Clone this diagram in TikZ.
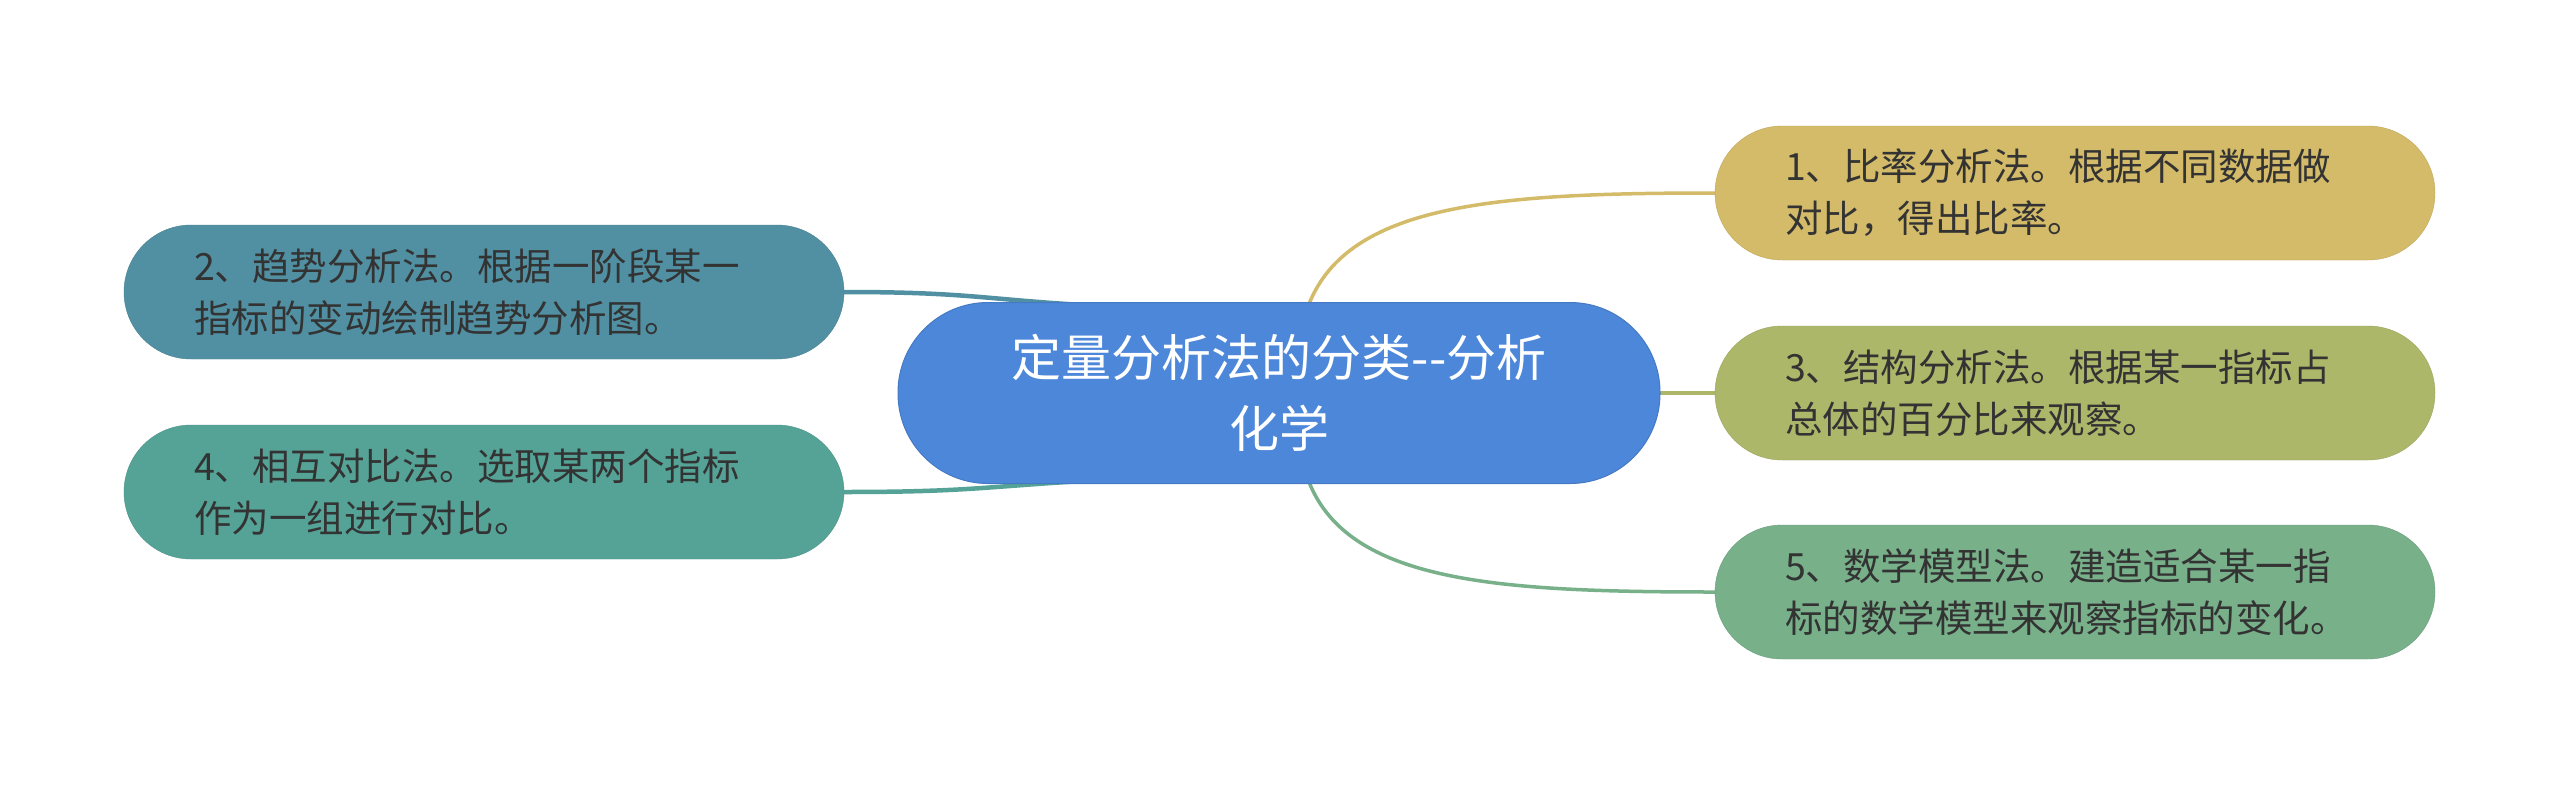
\documentclass[tikz,border=0pt]{standalone}
\usepackage{fontspec}
\newfontfamily\cjk{Noto Sans CJK SC}
\usetikzlibrary{calc}
\pgfdeclarelayer{bg}
\pgfsetlayers{bg,main}
\definecolor{cmain}{HTML}{4D87DA}
\definecolor{cone}{HTML}{D4BB69}
\definecolor{cthree}{HTML}{ADB76A}
\definecolor{cfive}{HTML}{78B08A}
\definecolor{ctwo}{HTML}{5190A2}
\definecolor{cfour}{HTML}{55A397}
\definecolor{tdark}{HTML}{333333}
\begin{document}
\begin{tikzpicture}[x=1pt,y=-1pt,
  leaf/.style={rectangle, rounded corners=67pt, minimum width=720pt, minimum height=134pt,
    text width=580pt, align=left, inner sep=0pt, text=tdark,
    font=\cjk\fontsize{37.5}{52}\selectfont},
  hub/.style={rectangle, rounded corners=90pt, minimum width=762pt, minimum height=181pt,
    align=center, inner sep=0pt, text=white, fill=cmain, draw=cmain!90!black, line width=1pt,
    font=\cjk\fontsize{50}{71}\selectfont},
  conn/.style={line width=3.5pt, line cap=round}]
\useasboundingbox (0,0) rectangle (2560,785);

\node[hub] (c) at (1279,393) {定量分析法的分类--分析\\化学};

\node[leaf, fill=cone, draw=cone!90!black] (n1) at (2075,193) {1、比率分析法。根据不同数据做\\对比，得出比率。};
\node[leaf, fill=cthree, draw=cthree!90!black] (n3) at (2075,393) {3、结构分析法。根据某一指标占\\总体的百分比来观察。};
\node[leaf, fill=cfive, draw=cfive!90!black] (n5) at (2075,592) {5、数学模型法。建造适合某一指\\标的数学模型来观察指标的变化。};
\node[leaf, fill=ctwo, draw=ctwo!90!black] (n2) at (484,292) {2、趋势分析法。根据一阶段某一\\指标的变动绘制趋势分析图。};
\node[leaf, fill=cfour, draw=cfour!90!black] (n4) at (484,492) {4、相互对比法。选取某两个指标\\作为一组进行对比。};

\coordinate (a1) at ($(c.north)+(30,2)$);
\coordinate (a5) at ($(c.south)+(30,-2)$);
\coordinate (a2) at ($(c.north west)+(185,3)$);
\coordinate (a4) at ($(c.south west)+(185,-3)$);

\begin{pgfonlayer}{bg}
\fill[white] (0,0) rectangle (2560,785);
\draw[conn, draw=cone] (a1) .. controls +(40,-100) and +(-220,0) .. (n1.west);
\draw[conn, draw=cthree] (c.east) -- (n3.west);
\draw[conn, draw=cfive] (a5) .. controls +(40,100) and +(-220,0) .. (n5.west);
\draw[conn, draw=ctwo, line width=4.5pt] (n2.east) .. controls +(120,0) and +(-100,-6) .. (a2);
\draw[conn, draw=cfour, line width=4.5pt] (n4.east) .. controls +(120,0) and +(-100,6) .. (a4);
\end{pgfonlayer}
\end{tikzpicture}
\end{document}
